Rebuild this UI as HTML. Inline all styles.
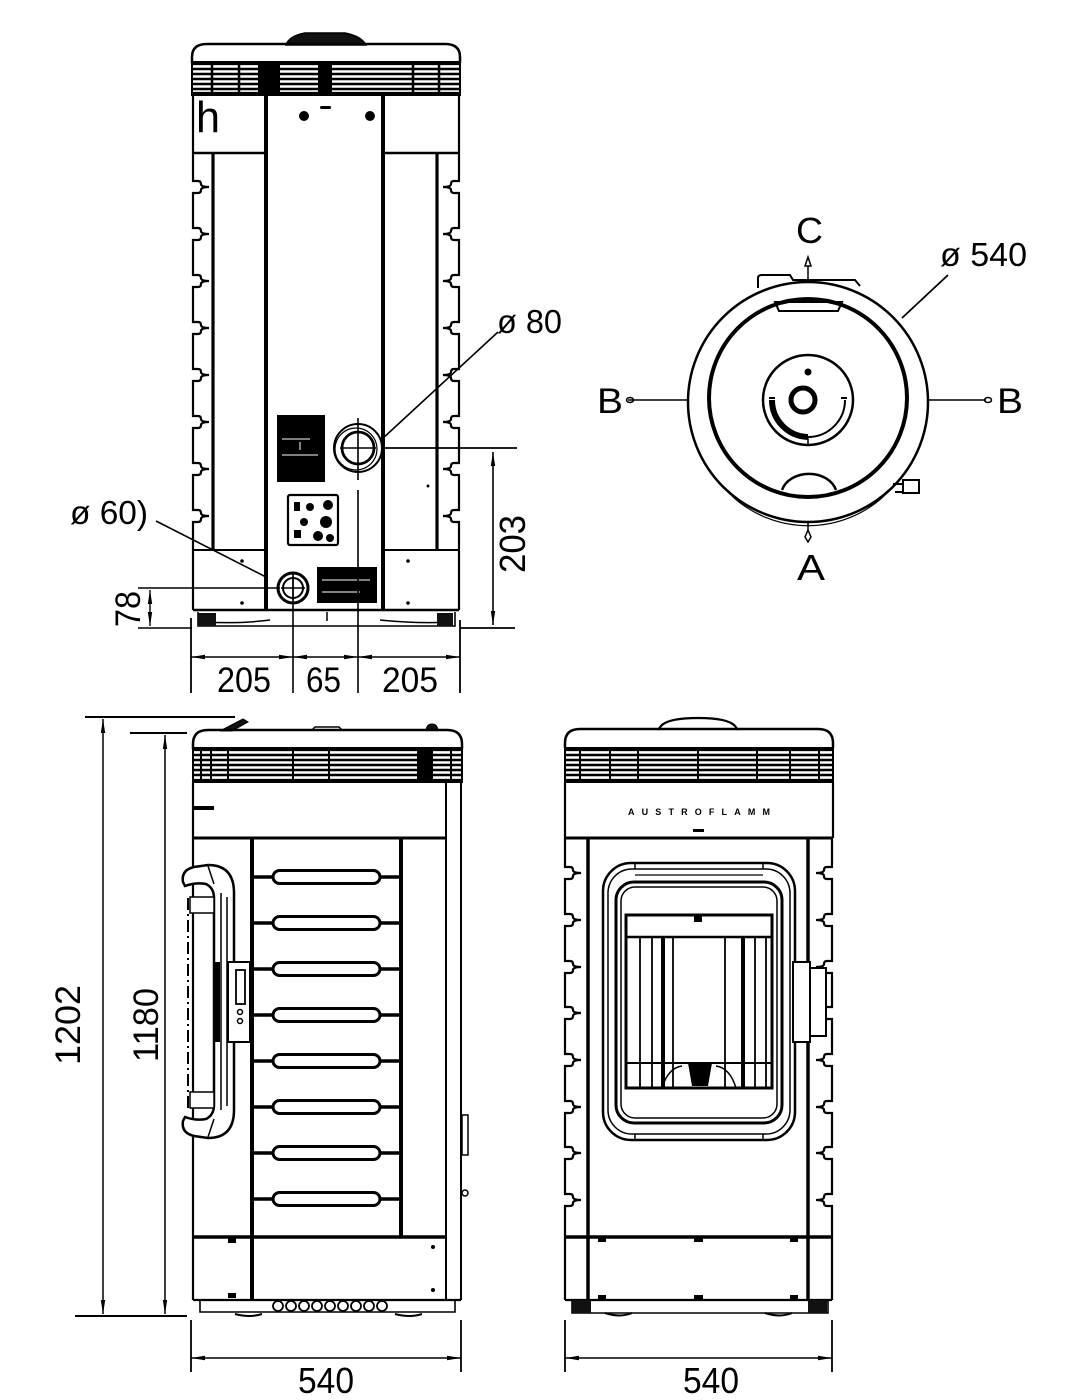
<!DOCTYPE html>
<html><head><meta charset="utf-8"><style>html,body{margin:0;padding:0;background:#fff}svg{display:block}</style></head><body>
<svg width="1092" height="1400" viewBox="0 0 1092 1400" xmlns="http://www.w3.org/2000/svg" font-family="'Liberation Sans', sans-serif">
<defs>
<marker id="ar" viewBox="0 0 14 6" refX="14" refY="3" markerWidth="14" markerHeight="6" markerUnits="userSpaceOnUse" orient="auto-start-reverse"><path d="M0,0.8 L14,3 L0,5.2 Z" fill="#000"/></marker>
</defs>
<rect width="1092" height="1400" fill="#fff"/>

<!-- ================= REAR VIEW (top-left) ================= -->
<g fill="none" stroke="#000">
  <path d="M286,45 Q289,36 305,33 L345,33 Q361,36 366,45 Z" fill="#111" stroke-width="1.5"/>
  <path d="M192,63 L192,57 Q192,44 207,44 L445,44 Q460,44 460,57 L460,63" stroke-width="2.5"/>
  <g transform="translate(192,62)">
    <rect x="0" y="0" width="268" height="33" fill="#fff" stroke-width="2"/>
    <path d="M0,1.5H268 M0,31.5H268" stroke-width="3.2"/>
    <path d="M0,7H268 M0,12H268 M0,17H268 M0,22H268 M0,27H268" stroke-width="2.4"/>
    <path d="M20,0V33 M47,0V33 M221,0V33 M247,0V33" stroke-width="2.5"/>
    <rect x="66" y="2" width="22" height="29" fill="#000" stroke="none"/>
    <rect x="126" y="2" width="14" height="29" fill="#000" stroke="none"/>
  </g>
  <path d="M193,95 L193,181 L198,181 Q201,181 201,184 Q201,187 209,187 Q201,187 201,190 Q201,193 198,193 L193,193 L193,228 L198,228 Q201,228 201,231 Q201,234 209,234 Q201,234 201,237 Q201,240 198,240 L193,240 L193,275 L198,275 Q201,275 201,278 Q201,281 209,281 Q201,281 201,284 Q201,287 198,287 L193,287 L193,322 L198,322 Q201,322 201,325 Q201,328 209,328 Q201,328 201,331 Q201,334 198,334 L193,334 L193,369 L198,369 Q201,369 201,372 Q201,375 209,375 Q201,375 201,378 Q201,381 198,381 L193,381 L193,416 L198,416 Q201,416 201,419 Q201,422 209,422 Q201,422 201,425 Q201,428 198,428 L193,428 L193,463 L198,463 Q201,463 201,466 Q201,469 209,469 Q201,469 201,472 Q201,475 198,475 L193,475 L193,510 L198,510 Q201,510 201,513 Q201,516 209,516 Q201,516 201,519 Q201,522 198,522 L193,522 L193,610" stroke-width="2.2"/>
  <path d="M459,95 L459,181 L454,181 Q451,181 451,184 Q451,187 443,187 Q451,187 451,190 Q451,193 454,193 L459,193 L459,228 L454,228 Q451,228 451,231 Q451,234 443,234 Q451,234 451,237 Q451,240 454,240 L459,240 L459,275 L454,275 Q451,275 451,278 Q451,281 443,281 Q451,281 451,284 Q451,287 454,287 L459,287 L459,322 L454,322 Q451,322 451,325 Q451,328 443,328 Q451,328 451,331 Q451,334 454,334 L459,334 L459,369 L454,369 Q451,369 451,372 Q451,375 443,375 Q451,375 451,378 Q451,381 454,381 L459,381 L459,416 L454,416 Q451,416 451,419 Q451,422 443,422 Q451,422 451,425 Q451,428 454,428 L459,428 L459,463 L454,463 Q451,463 451,466 Q451,469 443,469 Q451,469 451,472 Q451,475 454,475 L459,475 L459,510 L454,510 Q451,510 451,513 Q451,516 443,516 Q451,516 451,519 Q451,522 454,522 L459,522 L459,610" stroke-width="2.2"/>
  <path d="M193,153 H266 M383,153 H459" stroke-width="2.5"/>
  <path d="M193,550 H266 M383,550 H459" stroke-width="2"/>
  <path d="M213,153 V550 M437,153 V550" stroke-width="3.2"/>
  <path d="M266,95 V610 M383,95 V610" stroke-width="4"/>
  <path d="M193,610 H459" stroke-width="2.5"/>
  <path d="M198,612 V626 H455 V612" stroke-width="1.6"/>
  <path d="M200,622 Q240,624 270,620 M380,620 Q420,624 450,622" stroke-width="1.5"/>
  <path d="M327,612 V621" stroke-width="1.5"/>
</g>
<rect x="198" y="613" width="18" height="13" fill="#111"/>
<rect x="437" y="613" width="16" height="13" fill="#111"/>
<circle cx="304" cy="116" r="5" fill="#000"/>
<circle cx="370" cy="116" r="5" fill="#000"/>
<rect x="320" y="106" width="11" height="3" rx="1.5" fill="#000"/>
<g fill="#000">
<circle cx="242" cy="561" r="1.8"/><circle cx="242" cy="603" r="1.8"/>
<circle cx="408" cy="561" r="1.8"/><circle cx="408" cy="603" r="1.8"/>
<circle cx="428" cy="486" r="1.5"/>
</g>
<rect x="277" y="415" width="48" height="67" fill="#000"/>
<path d="M282,439 H310 M282,455 H318 M300,442 V450" stroke="#fff" stroke-width="1" fill="none"/>
<rect x="288" y="495" width="50" height="50" rx="2" fill="#fff" stroke="#000" stroke-width="2.2"/>
<g fill="#000">
<rect x="294" y="502" width="6" height="9"/><circle cx="310" cy="507" r="4"/><circle cx="328" cy="505" r="5"/>
<circle cx="304" cy="522" r="4"/><circle cx="326" cy="522" r="6"/><rect x="294" y="530" width="7" height="8"/><circle cx="318" cy="536" r="5"/><circle cx="330" cy="538" r="4"/>
</g>
<rect x="317" y="567" width="60" height="36" fill="#000"/>
<path d="M322,580 H370 M322,592 H360" stroke="#fff" stroke-width="1"/>
<g fill="none" stroke="#000">
  <circle cx="358" cy="448" r="24" stroke-width="2" fill="#fff"/>
  <circle cx="356" cy="449" r="21" stroke-width="1.2"/>
  <circle cx="358" cy="448" r="16" stroke-width="2.8"/>
  <path d="M340,448 H376" stroke-width="1.4"/>
  <circle cx="293" cy="588" r="15" stroke-width="3" fill="#fff"/>
  <circle cx="293" cy="588" r="10" stroke-width="2"/>
  <path d="M281,588 H305 M293,576 V600" stroke-width="1.5"/>
  <path d="M358,418 V480 M358,490 V693" stroke-width="1.6"/>
  <path d="M293,573 V693" stroke-width="1.6"/>
  <path d="M381,440 L498,332" stroke-width="1.6"/>
  <path d="M383,448 H517" stroke-width="1.8"/>
  <path d="M460,628 H515" stroke-width="1.8"/>
  <path d="M493,452 V625" stroke-width="1.6" marker-start="url(#ar)" marker-end="url(#ar)"/>
  <path d="M156,521 L268,578" stroke-width="1.6"/>
  <path d="M138,588 H280" stroke-width="1.6"/>
  <path d="M138,628 H192" stroke-width="1.6"/>
  <path d="M150,590 V626" stroke-width="1.4" marker-start="url(#ar)" marker-end="url(#ar)"/>
  <path d="M191,618 V693 M460,620 V693" stroke-width="1.8"/>
  <path d="M191,657 H293" stroke-width="1.5" marker-start="url(#ar)" marker-end="url(#ar)"/>
  <path d="M293,657 H358" stroke-width="1.5" marker-start="url(#ar)" marker-end="url(#ar)"/>
  <path d="M358,657 H460" stroke-width="1.5" marker-start="url(#ar)" marker-end="url(#ar)"/>
</g>
<text x="196" y="132" font-size="44" textLength="24" lengthAdjust="spacingAndGlyphs">h</text>
<text x="497" y="333" font-size="33" textLength="65" lengthAdjust="spacingAndGlyphs">ø 80</text>
<text x="70" y="524" font-size="33" textLength="78" lengthAdjust="spacingAndGlyphs">ø 60)</text>
<text x="217" y="692" font-size="35" textLength="54" lengthAdjust="spacingAndGlyphs">205</text>
<text x="306" y="692" font-size="35" textLength="35" lengthAdjust="spacingAndGlyphs">65</text>
<text x="382" y="692" font-size="35" textLength="56" lengthAdjust="spacingAndGlyphs">205</text>
<text transform="translate(525,544) rotate(-90)" text-anchor="middle" font-size="36" textLength="58" lengthAdjust="spacingAndGlyphs">203</text>
<text transform="translate(140,609) rotate(-90)" text-anchor="middle" font-size="35" textLength="36" lengthAdjust="spacingAndGlyphs">78</text>

<!-- ================= TOP VIEW (top-right) ================= -->
<g fill="none" stroke="#000">
  <path d="M758,288 L758,278 Q758,275 762,275 L790,275 L793,280 L855,280 L860,286" stroke-width="2"/>
  <circle cx="808" cy="402" r="120" stroke-width="2.5" fill="#fff"/>
  <path d="M727,490 A118,118 0 0 0 889,490" stroke-width="1.6"/>
  <path d="M732,496 A112,112 0 0 0 884,496" stroke-width="1.2"/>
  <circle cx="808" cy="398" r="99" stroke-width="4"/>
  <path d="M775,302 H842 L838,311 H779 Z" stroke-width="2"/>
  <path d="M782,490 A28,22 0 0 1 836,490" stroke-width="2.5"/>
  <circle cx="808" cy="400" r="45" stroke-width="2.5"/>
  <circle cx="803" cy="400" r="12" stroke-width="5"/>
  <path d="M772,400 A37,37 0 0 0 808,437" stroke-width="6"/>
  <path d="M808,437 A37,37 0 0 0 845,400" stroke-width="2"/>
  <path d="M769,398 L775,398 M841,398 L847,398" stroke-width="2"/>
  <path d="M808,437 V444" stroke-width="1.5"/>
  <rect x="903" y="480" width="16" height="13" stroke-width="2"/>
  <path d="M893,484 L903,484 M895,492 L903,492" stroke-width="2"/>
  <path d="M628,400 H688 M928,400 H986" stroke-width="1.6"/>
  <ellipse cx="630" cy="400" rx="3.5" ry="2.5" stroke-width="1.5"/>
  <ellipse cx="988" cy="400" rx="3.5" ry="2.5" stroke-width="1.5"/>
  <path d="M808,257 L811,266 L805,266 Z M808,266 V280" stroke-width="1.5"/>
  <path d="M808,522 V530 M808,530 L811,537 L808,542 L805,537 Z" stroke-width="1.5"/>
  <path d="M902,318 L948,275" stroke-width="1.8"/>
</g>
<circle cx="808" cy="372" r="3.5" fill="#000"/>
<text x="796" y="243" font-size="36" textLength="27" lengthAdjust="spacingAndGlyphs">C</text>
<text x="940" y="266" font-size="33" textLength="87" lengthAdjust="spacingAndGlyphs">ø 540</text>
<text x="597" y="413" font-size="35" textLength="26" lengthAdjust="spacingAndGlyphs">B</text>
<text x="997" y="413" font-size="35" textLength="26" lengthAdjust="spacingAndGlyphs">B</text>
<text x="797" y="580" font-size="36" textLength="28" lengthAdjust="spacingAndGlyphs">A</text>

<!-- ================= SIDE VIEW (bottom-left) ================= -->
<g fill="none" stroke="#000">
  <path d="M85,717 H235" stroke-width="2"/>
  <path d="M130,733 H187" stroke-width="2"/>
  <path d="M75,1316 H187" stroke-width="2"/>
  <path d="M103,719 V1314" stroke-width="1.5" marker-start="url(#ar)" marker-end="url(#ar)"/>
  <path d="M165,735 V1314" stroke-width="1.5" marker-start="url(#ar)" marker-end="url(#ar)"/>
  <path d="M191,1320 V1372 M461,1320 V1372" stroke-width="1.8"/>
  <path d="M191,1358 H461" stroke-width="1.5" marker-start="url(#ar)" marker-end="url(#ar)"/>
  <path d="M220,731 L243,719 L248,722 L232,731 Z" fill="#111" stroke-width="1"/>
  <path d="M312,730 L315,727 H339 L342,730" stroke-width="1.5"/>
  <path d="M426,730 Q427,724 432,724 Q437,724 438,730" fill="#111" stroke-width="1"/>
  <path d="M193,749 L193,744 Q193,730 208,730 L447,730 Q462,730 462,744 L462,749" stroke-width="2.5"/>
  <g transform="translate(193,748)">
    <rect x="0" y="0" width="269" height="34" fill="#fff" stroke-width="2"/>
    <path d="M0,1.5H269 M0,32.5H269" stroke-width="3.2"/>
    <path d="M0,7H269 M0,12H269 M0,17H269 M0,22H269 M0,27H269" stroke-width="2.4"/>
    <path d="M8,0V34 M18,0V34 M35,0V34 M100,0V34 M136,0V34 M258,0V34" stroke-width="2"/>
    <rect x="224" y="2" width="16" height="30" fill="#000" stroke="none"/>
  </g>
  <path d="M193,782 V1300" stroke-width="2.2"/>
  <path d="M446,782 V1300 M461,782 V1300" stroke-width="2"/>
  <path d="M193,838 H446" stroke-width="3"/>
  <path d="M252,838 V1300 M401,838 V1237" stroke-width="4"/>
  <path d="M193,1237 H446" stroke-width="3.5"/>
  <path d="M193,1300 H461" stroke-width="2.2"/>
  <path d="M200,1300 V1312 H455 V1300" stroke-width="1.6"/>
  <path d="M235,1314 Q250,1318 262,1314 M395,1314 Q410,1318 422,1314" stroke-width="2"/>
  <rect x="462" y="1115" width="6" height="40" stroke-width="1.5"/>
  <circle cx="465" cy="1193" r="3" stroke-width="1.5"/>
  <g stroke-width="3.5">
    <path d="M252,877 H273 M380,877 H401 M252,923 H273 M380,923 H401 M252,969 H273 M380,969 H401 M252,1015 H273 M380,1015 H401 M252,1061 H273 M380,1061 H401 M252,1107 H273 M380,1107 H401 M252,1153 H273 M380,1153 H401 M252,1199 H273 M380,1199 H401"/>
  </g>
  <g stroke-width="3">
    <rect x="273" y="870.5" width="107" height="13" rx="6.5"/>
    <rect x="273" y="916.5" width="107" height="13" rx="6.5"/>
    <rect x="273" y="962.5" width="107" height="13" rx="6.5"/>
    <rect x="273" y="1008.5" width="107" height="13" rx="6.5"/>
    <rect x="273" y="1054.5" width="107" height="13" rx="6.5"/>
    <rect x="273" y="1100.5" width="107" height="13" rx="6.5"/>
    <rect x="273" y="1146.5" width="107" height="13" rx="6.5"/>
    <rect x="273" y="1192.5" width="107" height="13" rx="6.5"/>
  </g>
  <g stroke-width="1.8">
    <circle cx="278" cy="1306" r="5"/><circle cx="291" cy="1306" r="5"/><circle cx="304" cy="1306" r="5"/>
    <circle cx="317" cy="1306" r="5"/><circle cx="330" cy="1306" r="5"/><circle cx="343" cy="1306" r="5"/>
    <circle cx="356" cy="1306" r="5"/><circle cx="369" cy="1306" r="5"/><circle cx="382" cy="1306" r="5"/>
  </g>
  <path d="M183,882 Q181,870 194,867 L208,865 Q234,865 234,893 L234,1110 Q234,1138 208,1138 L194,1136 Q181,1133 183,1121 L185,1117 Q196,1121 206,1119 Q214,1115 214,1105 L214,898 Q214,888 206,884 Q196,882 185,886 Z" fill="#fff" stroke-width="2.5"/>
  <path d="M221,893 V1110 M227,897 V1106" stroke-width="1.5"/>
  <path d="M208,866 L214,884 M208,1137 L214,1119" stroke-width="1.5"/>
  <path d="M188,898 V1108" stroke-width="2" stroke-dasharray="12,4,2,4"/>
  <rect x="190" y="897" width="24" height="16" stroke-width="1.5" fill="#fff"/>
  <rect x="190" y="1092" width="24" height="16" stroke-width="1.5" fill="#fff"/>
  <rect x="214" y="962" width="6" height="80" fill="#000" stroke="none"/>
  <rect x="228" y="962" width="22" height="80" stroke-width="2" fill="#fff"/>
  <rect x="236" y="970" width="9" height="34" stroke-width="1.8"/>
  <circle cx="240" cy="1012" r="2.5" stroke-width="1.5"/>
  <circle cx="240" cy="1021" r="2.5" stroke-width="1.5"/>
</g>
<rect x="194" y="806" width="20" height="4" fill="#000"/>
<rect x="228" y="1238" width="8" height="5" fill="#000"/>
<rect x="228" y="1293" width="8" height="5" fill="#000"/>
<circle cx="433" cy="1247" r="2" fill="#000"/>
<circle cx="433" cy="1290" r="2" fill="#000"/>
<text transform="translate(80,1025) rotate(-90)" text-anchor="middle" font-size="35" textLength="80" lengthAdjust="spacingAndGlyphs">1202</text>
<text transform="translate(158,1025) rotate(-90)" text-anchor="middle" font-size="35" textLength="74" lengthAdjust="spacingAndGlyphs">1180</text>
<text x="298" y="1393" font-size="36" textLength="56" lengthAdjust="spacingAndGlyphs">540</text>

<!-- ================= FRONT VIEW (bottom-right) ================= -->
<g fill="none" stroke="#000">
  <path d="M565,1320 V1372 M832,1320 V1372" stroke-width="1.8"/>
  <path d="M565,1358 H832" stroke-width="1.5" marker-start="url(#ar)" marker-end="url(#ar)"/>
  <path d="M658,730 L661,726 Q668,718 698,718 Q728,718 735,726 L738,730" stroke-width="2.2"/>
  <path d="M565,748 L565,743 Q565,729 580,729 L818,729 Q833,729 833,743 L833,748" stroke-width="2.5"/>
  <g transform="translate(565,748)">
    <rect x="0" y="0" width="268" height="34" fill="#fff" stroke-width="2"/>
    <path d="M0,1.5H268 M0,32.5H268" stroke-width="3.2"/>
    <path d="M0,7H268 M0,12H268 M0,17H268 M0,22H268 M0,27H268" stroke-width="2.4"/>
    <path d="M15,0V34 M45,0V34 M73,0V34 M133,0V34 M192,0V34 M225,0V34 M254,0V34" stroke-width="2"/>
  </g>
  <path d="M565,782 V838 M833,782 V838" stroke-width="2.2"/>
  <path d="M565,838 H833" stroke-width="3"/>
  <path d="M565,838 L565,867 L570,867 Q573,867 573,870 Q573,873 581,873 Q573,873 573,876 Q573,879 570,879 L565,879 L565,914 L570,914 Q573,914 573,917 Q573,920 581,920 Q573,920 573,923 Q573,926 570,926 L565,926 L565,961 L570,961 Q573,961 573,964 Q573,967 581,967 Q573,967 573,970 Q573,973 570,973 L565,973 L565,1007 L570,1007 Q573,1007 573,1010 Q573,1013 581,1013 Q573,1013 573,1016 Q573,1019 570,1019 L565,1019 L565,1054 L570,1054 Q573,1054 573,1057 Q573,1060 581,1060 Q573,1060 573,1063 Q573,1066 570,1066 L565,1066 L565,1101 L570,1101 Q573,1101 573,1104 Q573,1107 581,1107 Q573,1107 573,1110 Q573,1113 570,1113 L565,1113 L565,1147 L570,1147 Q573,1147 573,1150 Q573,1153 581,1153 Q573,1153 573,1156 Q573,1159 570,1159 L565,1159 L565,1194 L570,1194 Q573,1194 573,1197 Q573,1200 581,1200 Q573,1200 573,1203 Q573,1206 570,1206 L565,1206 L565,1300" stroke-width="2.2"/>
  <path d="M832,838 L832,867 L827,867 Q824,867 824,870 Q824,873 816,873 Q824,873 824,876 Q824,879 827,879 L832,879 L832,914 L827,914 Q824,914 824,917 Q824,920 816,920 Q824,920 824,923 Q824,926 827,926 L832,926 L832,961 L827,961 Q824,961 824,964 Q824,967 816,967 Q824,967 824,970 Q824,973 827,973 L832,973 L832,1007 L827,1007 Q824,1007 824,1010 Q824,1013 816,1013 Q824,1013 824,1016 Q824,1019 827,1019 L832,1019 L832,1054 L827,1054 Q824,1054 824,1057 Q824,1060 816,1060 Q824,1060 824,1063 Q824,1066 827,1066 L832,1066 L832,1101 L827,1101 Q824,1101 824,1104 Q824,1107 816,1107 Q824,1107 824,1110 Q824,1113 827,1113 L832,1113 L832,1147 L827,1147 Q824,1147 824,1150 Q824,1153 816,1153 Q824,1153 824,1156 Q824,1159 827,1159 L832,1159 L832,1194 L827,1194 Q824,1194 824,1197 Q824,1200 816,1200 Q824,1200 824,1203 Q824,1206 827,1206 L832,1206 L832,1300" stroke-width="2.2"/>
  <path d="M588,838 V1300 M808,838 V1300" stroke-width="3.5"/>
  <path d="M565,1237 H832" stroke-width="3.5"/>
  <path d="M565,1300 H832" stroke-width="2.2"/>
  <path d="M572,1300 V1313 H828 V1300" stroke-width="1.6"/>
  <path d="M605,1313 Q620,1318 632,1313 M765,1313 Q780,1318 792,1313" stroke-width="2"/>
  <rect x="603" y="863" width="192" height="277" rx="28" stroke-width="2.5" fill="#fff"/>
  <rect x="608" y="869" width="182" height="265" rx="24" stroke-width="1.5"/>
  <rect x="616" y="882" width="166" height="241" rx="18" stroke-width="3"/>
  <rect x="621" y="887" width="156" height="231" rx="14" stroke-width="1.5"/>
  <path d="M635,864 V869 M763,864 V869 M635,1134 V1139 M763,1134 V1139" stroke-width="1.5"/>
  <path d="M635,875 H763" stroke-width="1.2"/>
  <rect x="626" y="915" width="146" height="173" stroke-width="3"/>
  <path d="M626,937 H772" stroke-width="2.5"/>
  <path d="M640,937 V1088 M652,937 V1088 M673,937 V1088 M725,937 V1088 M755,937 V1088 M766,937 V1088" stroke-width="1.8"/>
  <path d="M663,937 V1088 M743,937 V1088" stroke-width="4"/>
  <path d="M626,1063 H772" stroke-width="2"/>
  <path d="M662,1088 Q668,1068 682,1066 M736,1088 Q730,1068 716,1066" stroke-width="1.5"/>
  <rect x="793" y="962" width="17" height="80" stroke-width="2" fill="#fff"/>
  <rect x="810" y="968" width="16" height="68" stroke-width="2" fill="#fff"/>
</g>
<polygon points="688,1063 712,1063 708,1086 692,1086" fill="#000"/>
<rect x="694" y="915" width="8" height="7" fill="#000"/>
<rect x="572" y="1300" width="19" height="13" fill="#111"/>
<rect x="808" y="1300" width="19" height="13" fill="#111"/>
<g fill="#000">
<rect x="598" y="1238" width="8" height="4"/><rect x="694" y="1238" width="9" height="4"/><rect x="790" y="1238" width="8" height="4"/>
<rect x="598" y="1295" width="8" height="4"/><rect x="694" y="1295" width="9" height="4"/><rect x="790" y="1295" width="8" height="4"/>
</g>
<text x="628" y="815" font-size="9" font-weight="bold" textLength="142" lengthAdjust="spacing">AUSTROFLAMM</text>
<rect x="693" y="829" width="11" height="3" fill="#000"/>
<text x="683" y="1393" font-size="36" textLength="56" lengthAdjust="spacingAndGlyphs">540</text>
</svg>
</body></html>
